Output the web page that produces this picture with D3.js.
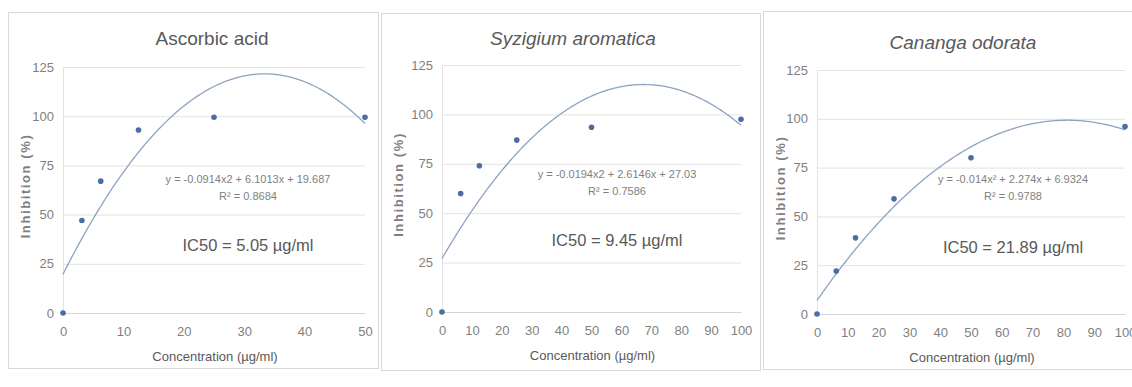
<!DOCTYPE html>
<html>
<head>
<meta charset="utf-8">
<script src="https://cdn.jsdelivr.net/npm/d3@7"></script>
<style>
  body { margin: 0; background: #fff; }
  svg { display: block; }
  text { fill: #595959; font-family: "Liberation Sans", "DejaVu Sans", sans-serif; }
</style>
</head>
<body>
<svg id="chart" width="1132" height="387"></svg>
<script>
// data
const titles = ["Ascorbic acid", "Syzigium aromatica", "Cananga odorata"];
const ascorbicConc = [0, 3.125, 6.25, 12.5, 25, 50];
const ascorbicInhib = [0, 47, 67, 93, 99.5, 99.5];
const syzigiumConc = [0, 6.25, 12.5, 25, 50, 100];
const syzigiumInhib = [0, 60, 74, 87, 93.5, 97.5];
const canangaConc = [0, 6.25, 12.5, 25, 50, 100];
const canangaInhib = [0, 22, 39, 59, 80, 96];

// polynomial trendline coefficients [a, b, c] for y = a x^2 + b x + c
const ascorbicTrend = [-0.0914, 6.1013, 19.687];
const syzigiumTrend = [-0.0194, 2.6146, 27.03];
const canangaTrend = [-0.014, 2.274, 6.9324];

const equations = ["y = -0.0914x2 + 6.1013x + 19.687", "y = -0.0194x2 + 2.6146x + 27.03", "y = -0.014x\u00b2 + 2.274x + 6.9324"];
const r2Labels = ["R\u00b2 = 0.8684", "R\u00b2 = 0.7586", "R\u00b2 = 0.9788"];
const ic50Labels = ["IC50 = 5.05 \u00b5g/ml", "IC50 = 9.45 \u00b5g/ml", "IC50 = 21.89 \u00b5g/ml"];

const xTicks50 = [0, 10, 20, 30, 40, 50];
const xTicks100 = [0, 10, 20, 30, 40, 50, 60, 70, 80, 90, 100];
const yTicks = [0, 25, 50, 75, 100, 125];

const series = [
  {conc: ascorbicConc, inhib: ascorbicInhib, trend: ascorbicTrend, xMax: 50, xTicks: xTicks50},
  {conc: syzigiumConc, inhib: syzigiumInhib, trend: syzigiumTrend, xMax: 100, xTicks: xTicks100},
  {conc: canangaConc, inhib: canangaInhib, trend: canangaTrend, xMax: 100, xTicks: xTicks100}
];

// layout of each chart box (pixels)
const layout = [
  {bx: 8, by: 12, bw: 370, bh: 356, left: 63, right: 365, top: 67, bottom: 313, tx: 212, ty: 45, eqx: 248, eqy: 183, icy: 251, italic: false},
  {bx: 381, by: 13, bw: 379, bh: 357, left: 442, right: 741, top: 65, bottom: 312, tx: 573, ty: 45, eqx: 617, eqy: 178, icy: 246, italic: true},
  {bx: 763, by: 11, bw: 380, bh: 358, left: 817, right: 1125, top: 70, bottom: 314, tx: 963, ty: 49, eqx: 1013, eqy: 183, icy: 253, italic: true}
];

const svg = d3.select("#chart");

series.forEach((s, i) => {
  const L = layout[i];
  const g = svg.append("g");

  g.append("rect")
    .attr("x", L.bx + 0.5).attr("y", L.by + 0.5)
    .attr("width", L.bw).attr("height", L.bh)
    .attr("fill", "#fff").attr("stroke", "#d9d9d9");

  const x = d3.scaleLinear().domain([0, s.xMax]).range([L.left, L.right]);
  const y = d3.scaleLinear().domain([0, 125]).range([L.bottom, L.top]);

  // grid
  g.append("g")
    .attr("transform", `translate(${L.left},0)`)
    .call(d3.axisLeft(y).tickValues(yTicks).tickSize(-(L.right - L.left)).tickFormat(""))
    .call(a => a.select(".domain").remove())
    .call(a => a.selectAll("line").attr("stroke", "#e3e3e3"));

  // vertical axis line
  g.append("line")
    .attr("x1", L.left + 0.5).attr("x2", L.left + 0.5)
    .attr("y1", y(125)).attr("y2", y(0))
    .attr("stroke", "#e3e3e3");

  // y tick labels
  g.append("g")
    .attr("transform", `translate(${L.left},0)`)
    .call(d3.axisLeft(y).tickValues(yTicks).tickSize(0).tickPadding(9))
    .call(a => a.select(".domain").remove())
    .call(a => a.selectAll("text").attr("font-size", 13).style("fill", "#7f7f7f")
      .attr("font-family", "Liberation Sans, sans-serif"));

  // x axis
  g.append("g")
    .attr("transform", `translate(0,${L.bottom})`)
    .call(d3.axisBottom(x).tickValues(s.xTicks).tickSize(0).tickPadding(14))
    .call(a => a.select(".domain").attr("stroke", "#d0d6e0"))
    .call(a => a.selectAll("text").attr("font-size", 13).style("fill", "#7f7f7f")
      .attr("font-family", "Liberation Sans, sans-serif"));

  // axis titles
  g.append("text")
    .attr("x", (L.left + L.right) / 2 + 1).attr("y", L.bottom + 48)
    .attr("text-anchor", "middle").attr("font-size", 13)
    .text("Concentration (\u00b5g/ml)");

  g.append("text")
    .attr("transform", `translate(${L.bx + 22},${(L.top + L.bottom) / 2 - 4}) rotate(-90)`)
    .attr("text-anchor", "middle").attr("font-size", 13).attr("font-weight", "bold")
    .attr("letter-spacing", 1.6)
    .attr("font-family", "DejaVu Sans, sans-serif")
    .style("fill", "#7f7f7f")
    .text("Inhibition (%)");

  // title
  g.append("text")
    .attr("x", L.tx).attr("y", L.ty)
    .attr("text-anchor", "middle").attr("font-size", 19)
    .attr("font-style", L.italic ? "italic" : "normal")
    .text(titles[i]);

  // trendline
  const [a, b, c] = s.trend;
  const xs = d3.range(0, s.xMax + 0.0001, s.xMax / 200);
  g.append("path")
    .datum(xs)
    .attr("fill", "none").attr("stroke", "#8da3c2").attr("stroke-width", 1.3)
    .attr("d", d3.line().x(d => x(d)).y(d => y(a * d * d + b * d + c)));

  // points
  g.selectAll("circle")
    .data(s.conc.map((cv, k) => [cv, s.inhib[k]]))
    .join("circle")
    .attr("cx", d => x(d[0])).attr("cy", d => y(d[1]))
    .attr("r", 2.8).attr("fill", "#4a6ea3");

  // equation, R2, IC50
  g.append("text")
    .attr("x", L.eqx).attr("y", L.eqy)
    .attr("text-anchor", "middle").attr("font-size", 11)
    .style("fill", "#7f7f7f")
    .text(equations[i]);
  g.append("text")
    .attr("x", L.eqx).attr("y", L.eqy + 17)
    .attr("text-anchor", "middle").attr("font-size", 11)
    .style("fill", "#7f7f7f")
    .text(r2Labels[i]);
  g.append("text")
    .attr("x", L.eqx).attr("y", L.icy)
    .attr("text-anchor", "middle").attr("font-size", 16.5)
    .text(ic50Labels[i]);
});
</script>
</body>
</html>
